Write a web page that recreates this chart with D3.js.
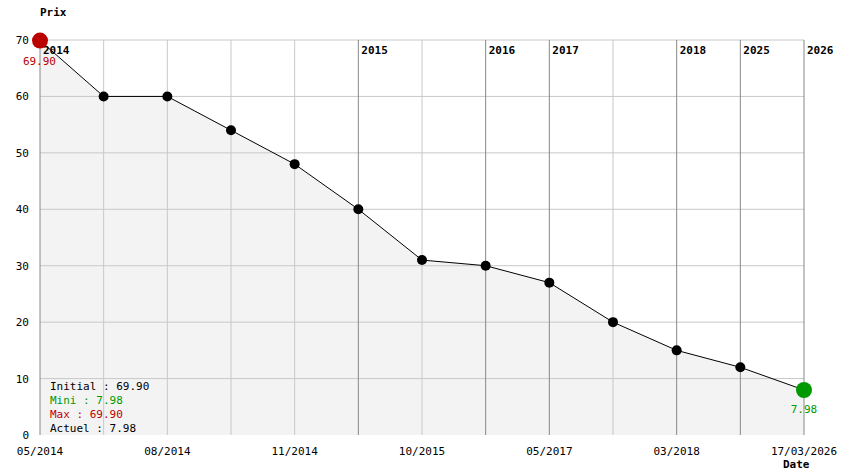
<!DOCTYPE html>
<html><head><meta charset="utf-8">
<script src="https://cdn.jsdelivr.net/npm/d3@7"></script>
<style>
body{margin:0;background:#fff}
text{font-family:"DejaVu Sans Mono",monospace;font-size:11px}
</style></head>
<body><svg id="chart"></svg>
<script>
const prices = [69.90, 60, 60, 54, 48, 40, 31, 30, 27, 20, 15, 12, 7.98];
const dateLabels = ['05/2014', '', '08/2014', '', '11/2014', '', '10/2015', '', '05/2017', '', '03/2018', '', '17/03/2026'];
// index where a new year starts, with its label
const yearIdx = [0, 5, 7, 8, 10, 11, 12];
const yearLabels = ['2014', '2015', '2016', '2017', '2018', '2025', '2026'];
const yTicks = [0, 10, 20, 30, 40, 50, 60, 70];

const W = 844, H = 474, m = {top: 40, right: 40, bottom: 39, left: 40};
const svg = d3.select('#chart').attr('width', W).attr('height', H);

const x = d3.scaleLinear().domain([0, prices.length - 1]).range([m.left, W - m.right]);
const y = d3.scaleLinear().domain([0, 70]).range([H - m.bottom, m.top]);

// area fill
svg.append('path')
  .datum(prices)
  .attr('fill', '#f3f3f3')
  .attr('d', d3.area().x((d, i) => x(i)).y0(y(0)).y1(d => y(d)));

// horizontal grid
svg.append('g').selectAll('line').data(yTicks.filter(t => t > 0)).join('line')
  .attr('x1', x(0)).attr('x2', x(prices.length - 1))
  .attr('y1', d => y(d)).attr('y2', d => y(d))
  .attr('stroke', '#c8c8c8');

// vertical grid
svg.append('g').selectAll('line').data(prices).join('line')
  .attr('x1', (d, i) => x(i)).attr('x2', (d, i) => x(i))
  .attr('y1', y(70)).attr('y2', y(0))
  .attr('stroke', (d, i) => yearIdx.includes(i) ? '#888' : '#c8c8c8');

// year labels
svg.append('g').selectAll('text').data(yearIdx).join('text')
  .attr('x', d => x(d) + 3).attr('y', y(70) + 14)
  .attr('font-weight', 'bold')
  .text((d, i) => yearLabels[i]);

// y axis labels
svg.append('g').selectAll('text').data(yTicks).join('text')
  .attr('x', 29).attr('y', d => y(d) + 4)
  .attr('text-anchor', 'end')
  .text(d => d);

// x labels
svg.append('g').selectAll('text').data(dateLabels).join('text')
  .attr('x', (d, i) => x(i)).attr('y', H - m.bottom + 20)
  .attr('text-anchor', 'middle')
  .text(d => d);

svg.append('text').attr('x', 40).attr('y', 16).attr('font-weight', 'bold').text('Prix');
svg.append('text').attr('x', 783).attr('y', 468).attr('font-weight', 'bold').text('Date');

// line
svg.append('path').datum(prices)
  .attr('fill', 'none').attr('stroke', '#000').attr('stroke-width', 1)
  .attr('d', d3.line().x((d, i) => x(i)).y(d => y(d)));

// points
const last = prices.length - 1;
svg.append('g').selectAll('circle').data(prices).join('circle')
  .attr('cx', (d, i) => x(i)).attr('cy', d => y(d))
  .attr('r', (d, i) => (i === 0 || i === last) ? 8 : 5)
  .attr('fill', (d, i) => i === 0 ? '#bb0000' : i === last ? '#009900' : '#000');

svg.append('text').attr('x', x(0)).attr('y', y(prices[0]) + 24)
  .attr('text-anchor', 'end').attr('dx', 16).attr('fill', '#bb0000').text('69.90');
svg.append('text').attr('x', x(last)).attr('y', y(prices[last]) + 23)
  .attr('text-anchor', 'middle').attr('fill', '#009900').text('7.98');

// summary
const summary = [['Initial : 69.90', '#000'], ['Mini : 7.98', '#009900'], ['Max : 69.90', '#bb0000'], ['Actuel : 7.98', '#000']];
svg.append('g').selectAll('text').data(summary).join('text')
  .attr('x', 50).attr('y', (d, i) => 390 + i * 14)
  .attr('fill', d => d[1]).text(d => d[0]);
</script></body></html>
